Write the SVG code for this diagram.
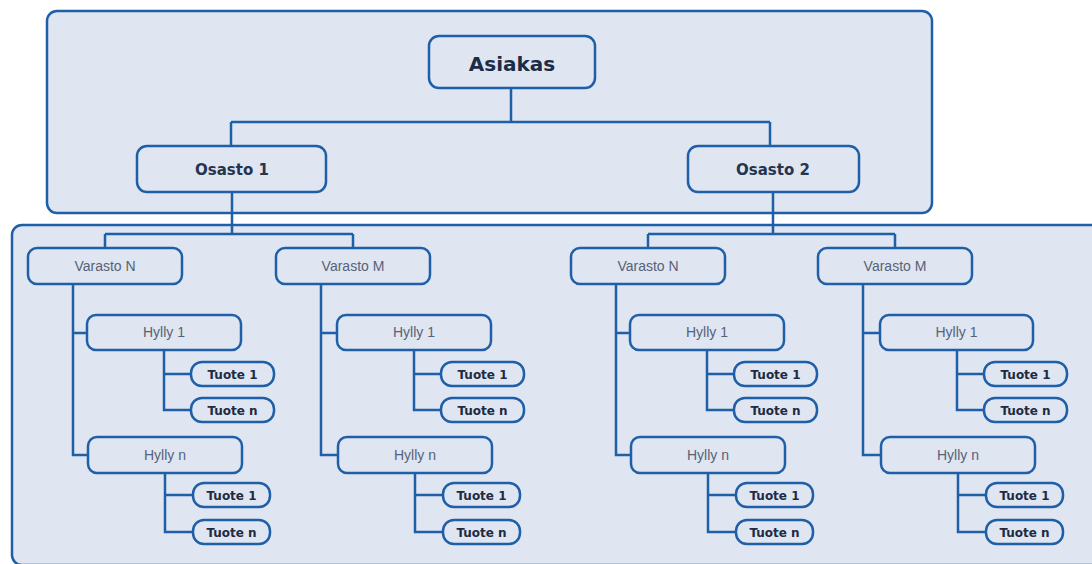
<svg xmlns="http://www.w3.org/2000/svg" width="1092" height="564" viewBox="0 0 1092 564">
  <style>
    .panel { fill: #dfe6f1; stroke: #1f5fa7; stroke-width: 2.5; }
    .box { fill: #dfe6f1; stroke: #1f5fa7; stroke-width: 2.5; }
    .link { fill: none; stroke: #1f5fa7; stroke-width: 2.5; }
    .t-root { font-family: "DejaVu Sans", Verdana, sans-serif; font-weight: bold; font-size: 20px; fill: #1b2c47; text-anchor: middle; }
    .t-dept { font-family: "DejaVu Sans", Verdana, sans-serif; font-weight: bold; font-size: 15px; fill: #26354f; text-anchor: middle; }
    .t-store { font-family: "Liberation Sans", Arial, sans-serif; font-size: 14px; fill: #566277; text-anchor: middle; }
    .t-item { font-family: "DejaVu Sans", Verdana, sans-serif; font-weight: bold; font-size: 12px; fill: #1e2b42; text-anchor: middle; }
  </style>

  <rect width="1092" height="564" fill="#ffffff"/>

  <!-- background panels -->
  <rect class="panel" x="47" y="11" width="885" height="202" rx="10"/>
  <rect class="panel" x="12" y="225" width="1095" height="340" rx="10"/>

  <!-- connectors -->
  <g id="connectors">
    <path class="link" d="M511 89 V122 M231 122 H770 M231 122 V146 M770 122 V146"/>
    <path class="link" d="M232 192 V234 M105 234 H353 M105 234 V248 M353 234 V248"/>
    <path class="link" d="M773 192 V234 M648 234 H895 M648 234 V248 M895 234 V248"/>
    <!-- Osasto 1 / Varasto N -->
    <path class="link" d="M73 284 V455 H88 M73 333 H87 M164 350 V410 H191 M164 374 H191 M165 473 V532 H193 M165 495 H193"/>
    <!-- Osasto 1 / Varasto M -->
    <path class="link" d="M321 284 V455 H338 M321 333 H337 M414 350 V410 H441 M414 374 H441 M415 473 V532 H443 M415 495 H443"/>
    <!-- Osasto 2 / Varasto N -->
    <path class="link" d="M616 284 V455 H631 M616 333 H630 M707 350 V410 H734 M707 374 H734 M708 473 V532 H736 M708 495 H736"/>
    <!-- Osasto 2 / Varasto M -->
    <path class="link" d="M863 284 V455 H881 M863 333 H880 M957 350 V410 H984 M957 374 H984 M958 473 V532 H986 M958 495 H986"/>
  </g>

  <g id="asiakas">
    <rect class="box" x="429" y="36" width="166" height="52" rx="10"/>
    <text class="t-root" x="512" y="71">Asiakas</text>
  </g>
  <g id="osasto-1">
    <rect class="box" x="137" y="146" width="189" height="46" rx="10"/>
    <text class="t-dept" x="232" y="175">Osasto 1</text>
  </g>
  <g id="osasto-2">
    <rect class="box" x="688" y="146" width="171" height="46" rx="10"/>
    <text class="t-dept" x="773" y="175">Osasto 2</text>
  </g>

  <!-- Osasto 1 / Varasto N -->
  <g id="o1-varasto-n">
    <rect class="box" x="28" y="248" width="154" height="36" rx="9"/>
    <text class="t-store" x="105" y="271">Varasto N</text>
  </g>
  <g id="o1-vn-hylly-1">
    <rect class="box" x="87" y="315" width="154" height="35" rx="9"/>
    <text class="t-store" x="164" y="337">Hylly 1</text>
  </g>
  <g id="o1-vn-h1-tuote-1">
    <rect class="box" x="191" y="362" width="83" height="24" rx="11"/>
    <text class="t-item" x="232.5" y="378.5">Tuote 1</text>
  </g>
  <g id="o1-vn-h1-tuote-n">
    <rect class="box" x="191" y="398" width="83" height="24" rx="11"/>
    <text class="t-item" x="232.5" y="414.5">Tuote n</text>
  </g>
  <g id="o1-vn-hylly-n">
    <rect class="box" x="88" y="437" width="154" height="36" rx="9"/>
    <text class="t-store" x="165" y="460">Hylly n</text>
  </g>
  <g id="o1-vn-hn-tuote-1">
    <rect class="box" x="193" y="483" width="77" height="24" rx="11"/>
    <text class="t-item" x="231.5" y="499.5">Tuote 1</text>
  </g>
  <g id="o1-vn-hn-tuote-n">
    <rect class="box" x="193" y="520" width="77" height="24" rx="11"/>
    <text class="t-item" x="231.5" y="536.5">Tuote n</text>
  </g>

  <!-- Osasto 1 / Varasto M -->
  <g id="o1-varasto-m">
    <rect class="box" x="276" y="248" width="154" height="36" rx="9"/>
    <text class="t-store" x="353" y="271">Varasto M</text>
  </g>
  <g id="o1-vm-hylly-1">
    <rect class="box" x="337" y="315" width="154" height="35" rx="9"/>
    <text class="t-store" x="414" y="337">Hylly 1</text>
  </g>
  <g id="o1-vm-h1-tuote-1">
    <rect class="box" x="441" y="362" width="83" height="24" rx="11"/>
    <text class="t-item" x="482.5" y="378.5">Tuote 1</text>
  </g>
  <g id="o1-vm-h1-tuote-n">
    <rect class="box" x="441" y="398" width="83" height="24" rx="11"/>
    <text class="t-item" x="482.5" y="414.5">Tuote n</text>
  </g>
  <g id="o1-vm-hylly-n">
    <rect class="box" x="338" y="437" width="154" height="36" rx="9"/>
    <text class="t-store" x="415" y="460">Hylly n</text>
  </g>
  <g id="o1-vm-hn-tuote-1">
    <rect class="box" x="443" y="483" width="77" height="24" rx="11"/>
    <text class="t-item" x="481.5" y="499.5">Tuote 1</text>
  </g>
  <g id="o1-vm-hn-tuote-n">
    <rect class="box" x="443" y="520" width="77" height="24" rx="11"/>
    <text class="t-item" x="481.5" y="536.5">Tuote n</text>
  </g>

  <!-- Osasto 2 / Varasto N -->
  <g id="o2-varasto-n">
    <rect class="box" x="571" y="248" width="154" height="36" rx="9"/>
    <text class="t-store" x="648" y="271">Varasto N</text>
  </g>
  <g id="o2-vn-hylly-1">
    <rect class="box" x="630" y="315" width="154" height="35" rx="9"/>
    <text class="t-store" x="707" y="337">Hylly 1</text>
  </g>
  <g id="o2-vn-h1-tuote-1">
    <rect class="box" x="734" y="362" width="83" height="24" rx="11"/>
    <text class="t-item" x="775.5" y="378.5">Tuote 1</text>
  </g>
  <g id="o2-vn-h1-tuote-n">
    <rect class="box" x="734" y="398" width="83" height="24" rx="11"/>
    <text class="t-item" x="775.5" y="414.5">Tuote n</text>
  </g>
  <g id="o2-vn-hylly-n">
    <rect class="box" x="631" y="437" width="154" height="36" rx="9"/>
    <text class="t-store" x="708" y="460">Hylly n</text>
  </g>
  <g id="o2-vn-hn-tuote-1">
    <rect class="box" x="736" y="483" width="77" height="24" rx="11"/>
    <text class="t-item" x="774.5" y="499.5">Tuote 1</text>
  </g>
  <g id="o2-vn-hn-tuote-n">
    <rect class="box" x="736" y="520" width="77" height="24" rx="11"/>
    <text class="t-item" x="774.5" y="536.5">Tuote n</text>
  </g>

  <!-- Osasto 2 / Varasto M -->
  <g id="o2-varasto-m">
    <rect class="box" x="818" y="248" width="154" height="36" rx="9"/>
    <text class="t-store" x="895" y="271">Varasto M</text>
  </g>
  <g id="o2-vm-hylly-1">
    <rect class="box" x="880" y="315" width="153" height="35" rx="9"/>
    <text class="t-store" x="956.5" y="337">Hylly 1</text>
  </g>
  <g id="o2-vm-h1-tuote-1">
    <rect class="box" x="984" y="362" width="83" height="24" rx="11"/>
    <text class="t-item" x="1025.5" y="378.5">Tuote 1</text>
  </g>
  <g id="o2-vm-h1-tuote-n">
    <rect class="box" x="984" y="398" width="83" height="24" rx="11"/>
    <text class="t-item" x="1025.5" y="414.5">Tuote n</text>
  </g>
  <g id="o2-vm-hylly-n">
    <rect class="box" x="881" y="437" width="154" height="36" rx="9"/>
    <text class="t-store" x="958" y="460">Hylly n</text>
  </g>
  <g id="o2-vm-hn-tuote-1">
    <rect class="box" x="986" y="483" width="77" height="24" rx="11"/>
    <text class="t-item" x="1024.5" y="499.5">Tuote 1</text>
  </g>
  <g id="o2-vm-hn-tuote-n">
    <rect class="box" x="986" y="520" width="77" height="24" rx="11"/>
    <text class="t-item" x="1024.5" y="536.5">Tuote n</text>
  </g>
</svg>
